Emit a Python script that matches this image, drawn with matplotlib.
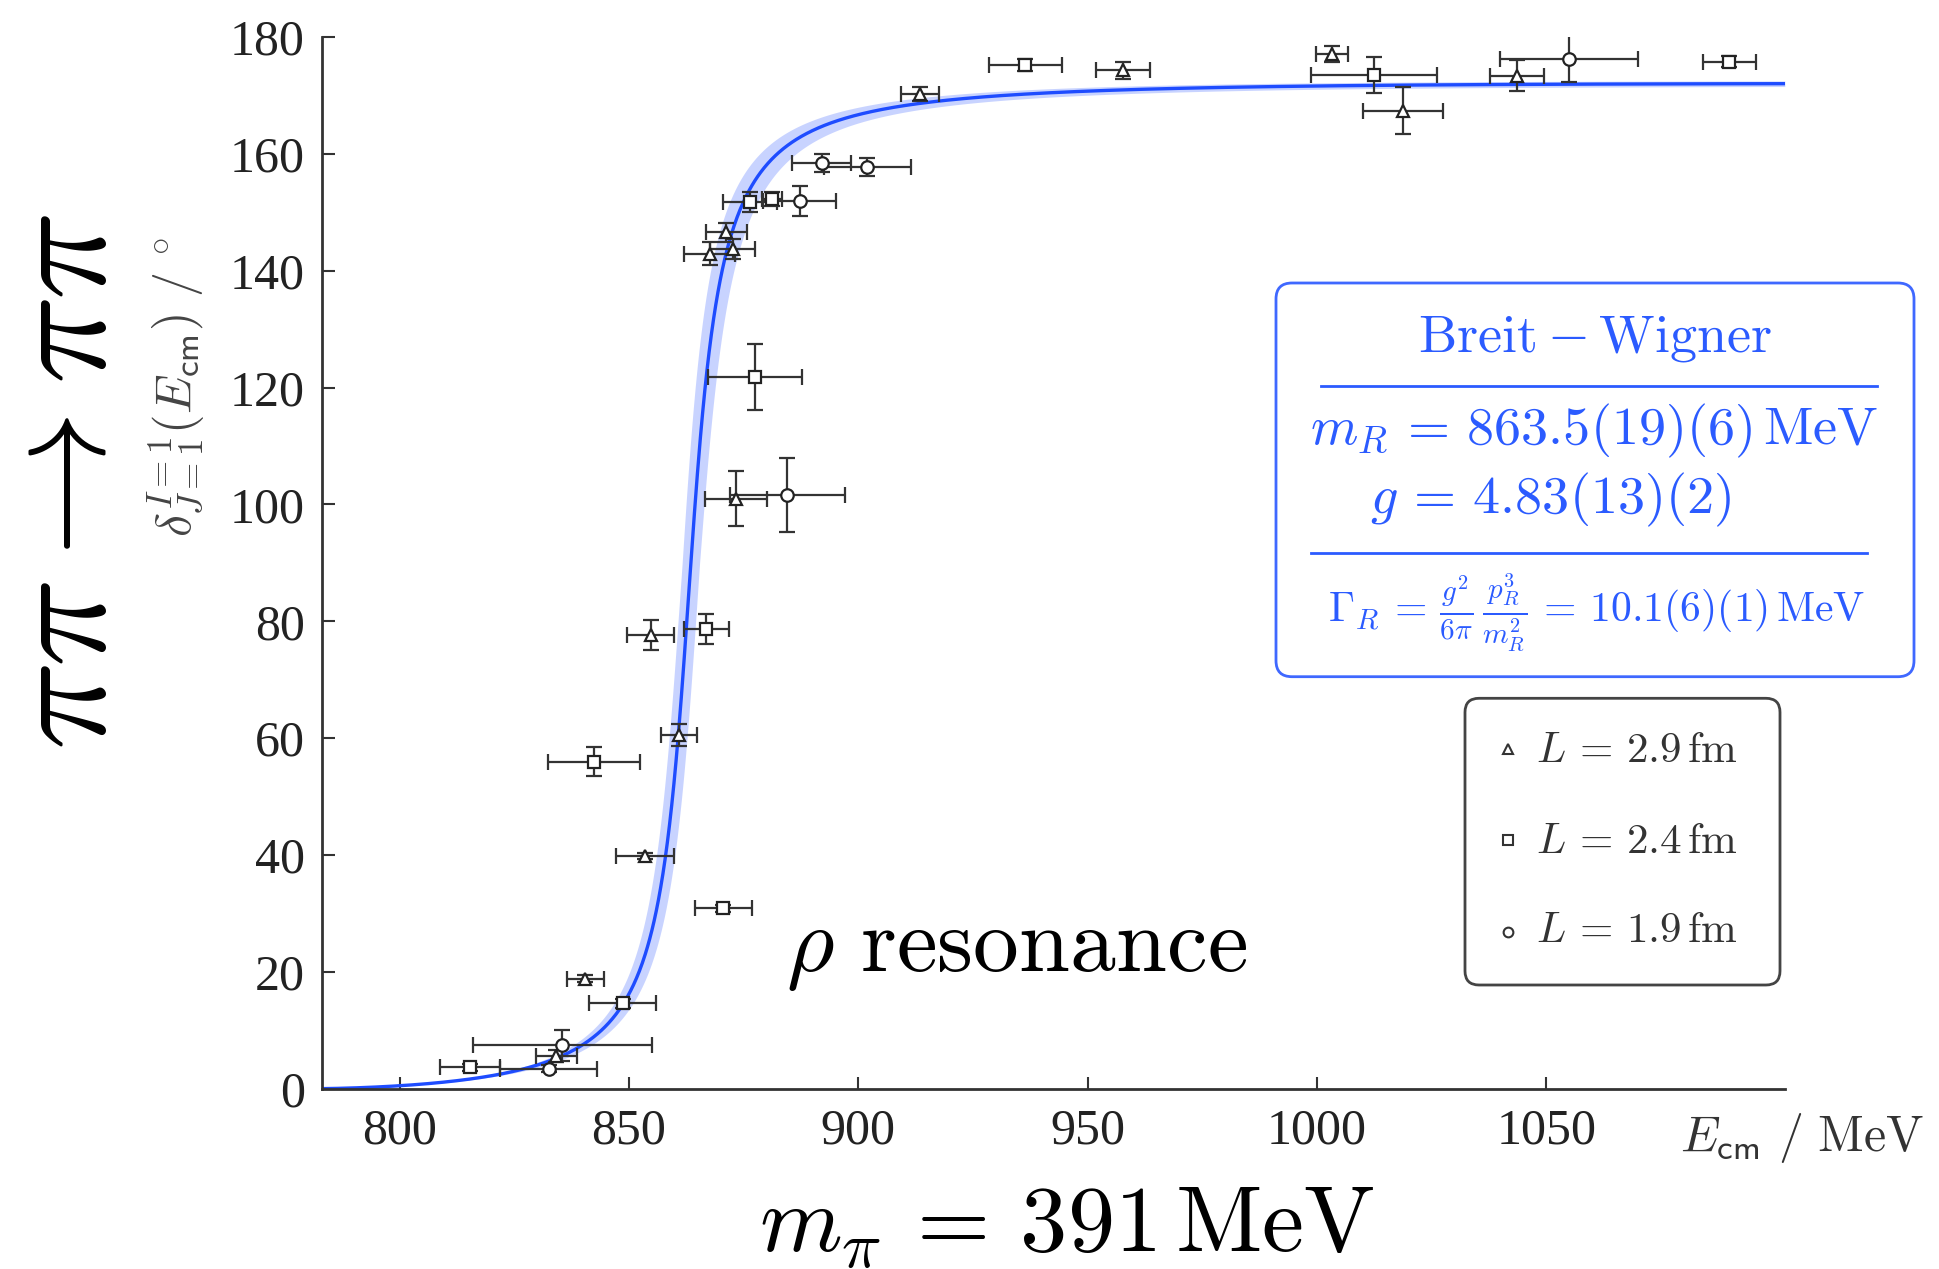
import numpy as np
import matplotlib
matplotlib.use("Agg")
import matplotlib.pyplot as plt
from matplotlib.patches import FancyBboxPatch
from matplotlib.lines import Line2D
from matplotlib.transforms import IdentityTransform

plt.rcParams['mathtext.fontset'] = 'cm'
plt.rcParams['font.family'] = ['Liberation Serif', 'DejaVu Serif']

# Breit-Wigner fit parameters (MeV)
m_pi = 391.0
m_R, dm_R = 863.5, 1.9
g_bw, dg_bw = 4.83, 0.13

# Phase shifts per lattice volume: E_cm [MeV], delta [deg], dE, ddelta
E_29 = [834.2, 840.5, 853.5, 860.9, 854.7, 873.3, 867.6, 872.6, 871.2, 913.5, 957.7, 1003.3, 1018.8, 1043.6]
d_29 = [5.6, 18.8, 39.8, 60.6, 77.6, 101.0, 142.9, 143.7, 146.6, 170.3, 174.3, 177.1, 167.4, 173.4]
dE_29 = [4.5, 4.0, 6.3, 4.0, 5.2, 6.8, 5.5, 4.9, 4.5, 4.1, 5.8, 3.5, 8.7, 5.8]
dd_29 = [1.0, 0.6, 0.5, 1.9, 2.6, 4.7, 2.0, 1.7, 1.6, 1.2, 1.5, 1.4, 4.0, 2.7]

E_24 = [815.3, 848.6, 870.6, 842.4, 866.9, 877.5, 876.4, 881.2, 936.4, 1012.5, 1089.9]
d_24 = [3.7, 14.6, 30.9, 56.0, 78.7, 121.8, 151.7, 152.3, 175.2, 173.5, 175.8]
dE_24 = [6.6, 7.4, 6.3, 10.1, 5.0, 10.2, 5.8, 2.2, 8.0, 13.7, 5.8]
dd_24 = [0.6, 0.8, 0.6, 2.5, 2.6, 5.7, 1.7, 1.2, 1.0, 3.1, 1.0]

E_19 = [832.5, 835.5, 884.5, 887.2, 892.0, 902.0, 1054.9]
d_19 = [3.4, 7.4, 101.6, 151.9, 158.4, 157.8, 176.3]
dE_19 = [10.6, 19.5, 12.5, 8.0, 6.5, 9.5, 15.0]
dd_19 = [0.6, 2.6, 6.3, 2.6, 1.5, 1.5, 4.0]

x_ticks = [800, 850, 900, 950, 1000, 1050]
y_ticks = [0, 20, 40, 60, 80, 100, 120, 140, 160, 180]


def bw_phase(E, mR, g):
    s = E ** 2
    p = np.sqrt(np.clip(s / 4.0 - m_pi ** 2, 0.0, None))
    width = g ** 2 / (6 * np.pi) * p ** 3 / s
    return np.degrees(np.arctan2(E * width, mR ** 2 - s))


fig = plt.figure(figsize=(19.4, 12.69), dpi=100)
ax = fig.add_axes([0.1658, 0.1421, 0.920 - 0.1658, 0.9708 - 0.1421])

E = np.linspace(2 * m_pi + 0.01, 1102, 2000)
central = bw_phase(E, m_R, g_bw)
variants = np.array([bw_phase(E, m_R + a * dm_R, g_bw + b * dg_bw)
                     for a in (-1, 0, 1) for b in (-1, 0, 1)])
ax.fill_between(E, variants.min(axis=0), variants.max(axis=0),
                color='#9cb0ff', alpha=0.55, lw=0, zorder=1)
ax.plot(E, central, color='#1e4cff', lw=2.4, zorder=2)

style = dict(mfc='white', mec='#222222', mew=1.6, ecolor='#333333',
             elinewidth=1.6, capsize=6, capthick=1.6, zorder=3, ls='none')
ax.errorbar(E_29, d_29, xerr=dE_29, yerr=dd_29, fmt='^', ms=9, **style)
ax.errorbar(E_24, d_24, xerr=dE_24, yerr=dd_24, fmt='s', ms=8.5, **style)
ax.errorbar(E_19, d_19, xerr=dE_19, yerr=dd_19, fmt='o', ms=9, **style)

ax.set_xlim(783, 1102)
ax.set_ylim(0, 180)
ax.set_xticks(x_ticks)
ax.set_yticks(y_ticks)
for side in ('top', 'right'):
    ax.spines[side].set_visible(False)
for side in ('left', 'bottom'):
    ax.spines[side].set_linewidth(2.0)
    ax.spines[side].set_color('#333333')
ax.tick_params(direction='in', length=9, width=1.5, color='#333333',
               labelsize=36, labelcolor='#222222')
ax.tick_params(axis='x', pad=14)
ax.tick_params(axis='y', pad=12)

# axis labels
fig.text(0.866, 0.0933, r'$E_{\mathsf{cm}}\ /\ \mathrm{MeV}$', fontsize=36,
         color='#333333', ha='left', va='baseline')
fig.text(0.0905, 0.695, r'$\delta^{I=1}_{J=1}(E_{\mathsf{cm}})\ /\ ^{\circ}$',
         fontsize=36, color='#444444', rotation=90, ha='center', va='center')

# large annotations
fig.text(0.036, 0.62, r'$\pi\pi\rightarrow\pi\pi$', fontsize=106,
         rotation=90, ha='center', va='center', color='black')
fig.text(0.5497, 0.0136, r'$m_\pi\,=\,391\,\mathrm{MeV}$', fontsize=68,
         ha='center', va='baseline', color='black')
fig.text(0.405, 0.235, r'$\rho\ \mathrm{resonance}$', fontsize=66,
         ha='left', va='baseline', color='black')

# Breit-Wigner parameter box
blue = '#2b5bff'
fig.add_artist(FancyBboxPatch((1276, 592.3), 1914 - 1276, 986 - 592.3,
                              boxstyle='round,pad=0,rounding_size=16',
                              transform=IdentityTransform(), ec='#3f68ff',
                              fc='white', lw=2.0, zorder=5))
fig.text(0.8224, 0.7228, r'$\mathrm{Breit-Wigner}$', fontsize=39, color=blue,
         ha='center', va='baseline', zorder=6)
fig.add_artist(Line2D([0.681, 0.9675], [0.6958, 0.6958], color=blue, lw=2.0, zorder=6))
fig.text(0.822, 0.6501, r'$m_R\,=\,863.5(19)(6)\,\mathrm{MeV}$', fontsize=39,
         color=blue, ha='center', va='baseline', zorder=6)
fig.text(0.7994, 0.5955, r'$g\,=\,4.83(13)(2)$', fontsize=39,
         color=blue, ha='center', va='baseline', zorder=6)
fig.add_artist(Line2D([0.6756, 0.9626], [0.5645, 0.5645], color=blue, lw=2.0, zorder=6))
fig.text(0.823, 0.517,
         r'$\Gamma_R\,=\,\frac{g^2}{6\pi}\,\frac{p_R^3}{m_R^2}\,=\,10.1(6)(1)\,\mathrm{MeV}$',
         fontsize=30, color=blue, ha='center', va='center', zorder=6)

# legend
fig.add_artist(FancyBboxPatch((1465, 284), 1780 - 1465, 570.7 - 284,
                              boxstyle='round,pad=0,rounding_size=14',
                              transform=IdentityTransform(), ec='#444444',
                              fc='white', lw=2.0, zorder=5))
legend_rows = [('^', r'$L\,=\,2.9\,\mathrm{fm}$', 0.4098, 0.3998),
               ('s', r'$L\,=\,2.4\,\mathrm{fm}$', 0.3380, 0.3276),
               ('o', r'$L\,=\,1.9\,\mathrm{fm}$', 0.2658, 0.2579)]
for marker, label, ym, yt in legend_rows:
    fig.add_artist(Line2D([0.7775], [ym], marker=marker, ms=7, mfc='white',
                          mec='#333333', mew=1.5, ls='none', zorder=6))
    fig.text(0.7918, yt, label, fontsize=31, color='#333333',
             ha='left', va='baseline', zorder=6)

fig.savefig('out.png', dpi=100)
